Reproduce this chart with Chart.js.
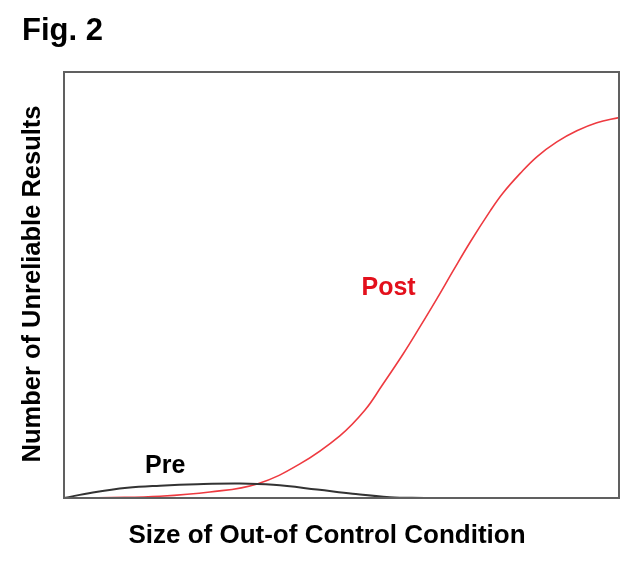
<!DOCTYPE html>
<html>
<head>
<meta charset="utf-8">
<script src="https://cdn.jsdelivr.net/npm/chart.js@4.4.1/dist/chart.umd.min.js"></script>
<style>
  body { margin: 0; background: #fff; }
  #wrap { width: 640px; height: 564px; }
</style>
</head>
<body>
<div id="wrap"><canvas id="fig2" width="640" height="564"></canvas></div>
<script>
// data (x: 0..100 size, y: 0..100 count, arbitrary units)
const postX = [0, 8.5, 17.3, 26.3, 34.8, 42.5, 49.7, 54.2, 57.3, 61.1, 64.1, 67.2, 70.1, 73.2, 76.8, 79.1, 82.2, 85.2, 88.8, 92.4, 96.0, 100];
const postY = [0, 0.1, 0.4, 1.4, 3.3, 8.0, 14.6, 20.6, 26.4, 33.8, 40.1, 46.8, 53.3, 60.1, 67.4, 71.6, 76.2, 80.1, 83.6, 86.2, 88.1, 89.3];
const preX = [0, 5.2, 11.4, 17.3, 24, 31.7, 37.7, 45.6, 52, 58.7, 65];
const preY = [0, 1.3, 2.4, 2.9, 3.25, 3.4, 3.1, 2.0, 1.0, 0.2, 0];

const figTitle = 'Fig. 2';
const xTitle = 'Size of Out-of Control Condition';
const yTitle = 'Number of Unreliable Results';
const seriesNames = ['Pre', 'Post'];

function toPoints(xs, ys) {
    return xs.map((x, i) => ({ x: x, y: ys[i] }));
}

// frame + texts
const figPlugin = {
    id: 'figPlugin',
    afterDraw(chart) {
        const ctx = chart.ctx;
        const a = chart.chartArea;
        const xs = chart.scales.x, ys = chart.scales.y;
        ctx.save();
        ctx.strokeStyle = '#606060';
        ctx.lineWidth = 2;
        ctx.strokeRect(a.left, a.top, a.right - a.left, a.bottom - a.top);

        ctx.fillStyle = '#000';
        ctx.textBaseline = 'alphabetic';
        ctx.font = 'bold 31px "Liberation Sans", Arial, sans-serif';
        ctx.textAlign = 'left';
        ctx.fillText(figTitle, 22, 40);

        ctx.font = 'bold 26px "Liberation Sans", Arial, sans-serif';
        ctx.textAlign = 'center';
        ctx.fillText(xTitle, 327, 543);

        ctx.font = 'bold 25.5px "Liberation Sans", Arial, sans-serif';
        ctx.save();
        ctx.translate(40, 284);
        ctx.rotate(-Math.PI / 2);
        ctx.fillText(yTitle, 0, 0);
        ctx.restore();

        // series labels
        ctx.font = 'bold 25px "Liberation Sans", Arial, sans-serif';
        ctx.textAlign = 'left';
        ctx.fillStyle = '#000';
        ctx.fillText(seriesNames[0], xs.getPixelForValue(14.6), ys.getPixelForValue(5.9));
        ctx.fillStyle = '#e3101c';
        ctx.fillText(seriesNames[1], xs.getPixelForValue(53.6), ys.getPixelForValue(47.7));
        ctx.restore();
    }
};

new Chart(document.getElementById('fig2'), {
    type: 'line',
    data: {
        datasets: [{
            label: seriesNames[0],
            data: toPoints(preX, preY),
            borderColor: '#333333',
            borderWidth: 2,
            pointRadius: 0,
            tension: 0.4,
            fill: false
        }, {
            label: seriesNames[1],
            data: toPoints(postX, postY),
            borderColor: '#ee3a40',
            borderWidth: 1.6,
            pointRadius: 0,
            tension: 0.4,
            fill: false
        }]
    },
    options: {
        responsive: false,
        animation: false,
        layout: { padding: { left: 64, right: 21, top: 72, bottom: 66 } },
        plugins: {
            legend: { display: false },
            tooltip: { enabled: false }
        },
        scales: {
            x: { type: 'linear', min: 0, max: 100, display: false },
            y: { type: 'linear', min: 0, max: 100, display: false }
        }
    },
    plugins: [figPlugin]
});
</script>
</body>
</html>
